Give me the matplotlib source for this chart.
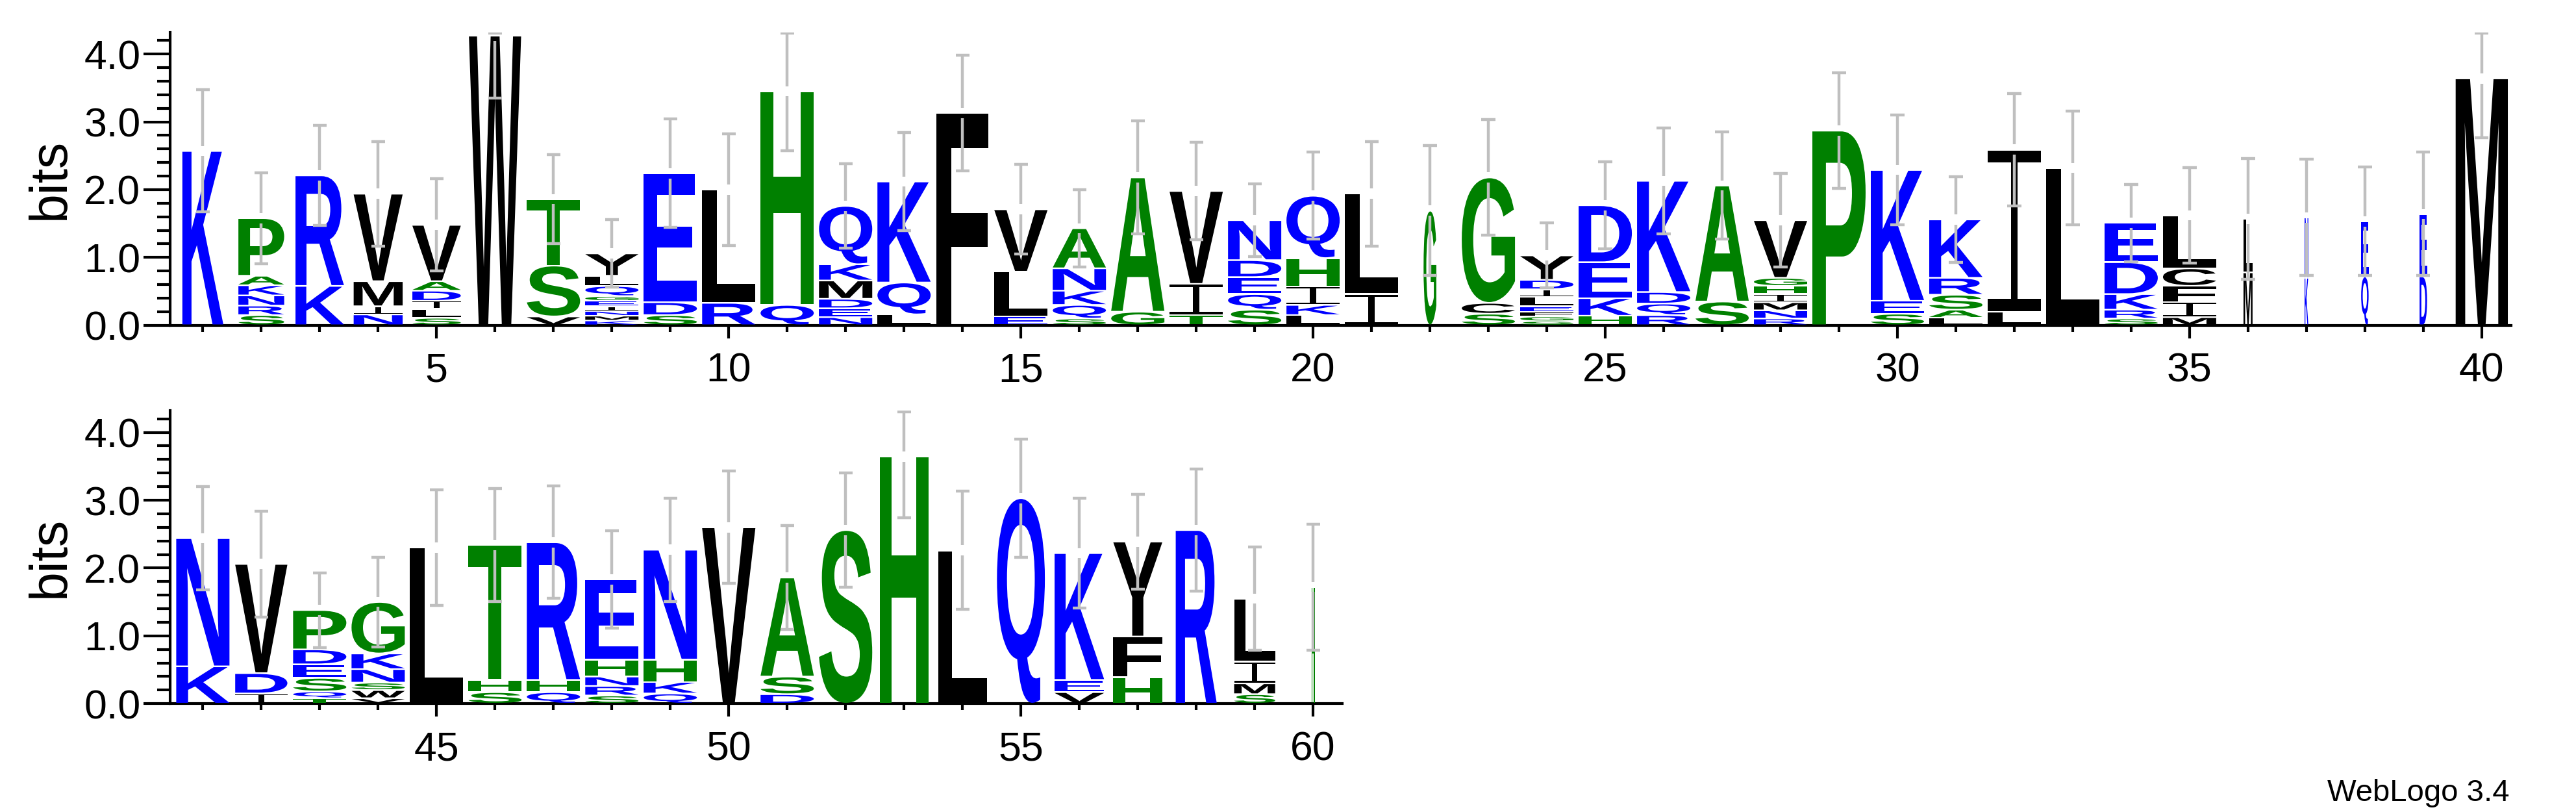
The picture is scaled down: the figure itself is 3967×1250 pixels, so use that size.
import matplotlib
matplotlib.use("Agg")
import matplotlib.pyplot as plt
from matplotlib.patheffects import AbstractPathEffect
from matplotlib.path import Path
from matplotlib.transforms import Affine2D
from matplotlib.ticker import MultipleLocator, FixedLocator, FormatStrFormatter

plt.rcParams['font.family'] = ['Liberation Sans', 'DejaVu Sans']

positions = list(range(1, 61))

# residues of each column, listed bottom -> top
residues = [
    "K", "SRNKAP", "KR", "NIMV", "SLIDAV", "W", "VST", "KMNIEGQLY", "SDE", "RL",
    "QH", "NEDMKQ", "LQK", "F", "ELV", "SQKNA", "GA", "TIV", "SQEDN", "LKIHQ",
    "IL", "G", "SCG", "SGFELIDY", "HKED", "RQDK", "SA", "RNMIHGV", "P", "SEK",
    "LASRK", "LI", "L", "SRKDE", "MIFCL", "ML", "KN", "QE", "DE", "M",
    "KN", "IDV", "TQSEDP", "VWSNKG", "L", "SHT", "QHR", "SRNHE", "QKHN", "V",
    "DSA", "S", "H", "L", "Q", "VEK", "HFY", "R", "SMIL", "H",
]

# information content (bits) of each residue, same order as residues
heights = [
    [2.57], [0.15, 0.14, 0.15, 0.15, 0.14, 0.85], [0.58, 1.63], [0.16, 0.12, 0.37, 1.29],
    [0.11, 0.13, 0.12, 0.15, 0.14, 0.83], [4.27], [0.13, 0.75, 0.98],
    [0.07, 0.07, 0.07, 0.07, 0.08, 0.07, 0.15, 0.15, 0.33], [0.15, 0.19, 1.90], [0.33, 1.67],
    [0.30, 3.15], [0.12, 0.13, 0.14, 0.27, 0.24, 0.86], [0.16, 0.47, 1.49], [3.13],
    [0.13, 0.66, 0.92], [0.10, 0.20, 0.21, 0.33, 0.59], [0.20, 1.98], [0.15, 0.46, 1.37],
    [0.23, 0.23, 0.25, 0.25, 0.59], [0.15, 0.15, 0.27, 0.42, 0.92],
    [0.46, 1.48], [1.69], [0.17, 0.16, 1.85], [0.06, 0.07, 0.07, 0.08, 0.14, 0.11, 0.14, 0.36],
    [0.14, 0.26, 0.53, 0.84], [0.15, 0.17, 0.17, 1.64], [0.35, 1.71],
    [0.10, 0.12, 0.12, 0.12, 0.12, 0.12, 0.85], [2.87], [0.17, 0.19, 1.93],
    [0.11, 0.12, 0.22, 0.25, 0.86], [0.20, 2.39], [2.32], [0.10, 0.13, 0.23, 0.47, 0.58],
    [0.12, 0.22, 0.24, 0.26, 0.78], [0.78, 0.79], [0.70, 0.89], [0.72, 0.81], [0.72, 0.92], [3.64],
    [0.55, 1.89], [0.15, 0.30, 1.61], [0.08, 0.10, 0.20, 0.20, 0.22, 0.58],
    [0.08, 0.12, 0.11, 0.20, 0.23, 0.76], [2.30], [0.17, 0.18, 1.99], [0.17, 0.18, 2.03],
    [0.12, 0.14, 0.14, 0.25, 1.18], [0.15, 0.17, 0.33, 1.62], [2.60],
    [0.14, 0.26, 1.46], [2.56], [3.64], [2.26], [3.03], [0.17, 0.18, 1.87], [0.39, 0.60, 1.40],
    [2.56], [0.14, 0.16, 0.32, 0.93], [1.72],
]

# half-length of the error bar of each column (bits)
errors = [
    0.90, 0.67, 0.74, 0.77, 0.68, 0.92, 0.66, 0.50, 0.80, 0.82,
    0.88, 0.62, 0.72, 0.85, 0.66, 0.57, 0.83, 0.72, 0.54, 0.64,
    0.77, 0.96, 0.85, 0.48, 0.64, 0.78, 0.79, 0.69, 0.85, 0.81,
    0.63, 0.83, 0.84, 0.57, 0.70, 0.89, 0.86, 0.80, 0.91, 0.87,
    0.76, 0.78, 0.55, 0.66, 0.85, 0.83, 0.83, 0.72, 0.76, 0.83,
    0.77, 0.84, 0.90, 0.87, 0.87, 0.81, 0.70, 0.90, 0.76, 0.93,
]

# relative column weight (stack width)
weights = [
    0.77, 0.86, 0.91, 0.92, 0.91, 0.98, 1.0, 1.0, 1.0, 1.0,
    1.0, 1.0, 1.0, 0.98, 1.0, 1.0, 1.0, 1.0, 1.0, 1.0,
    1.0, 0.24, 1.0, 1.0, 1.0, 1.0, 1.0, 1.0, 1.0, 1.0,
    1.0, 1.0, 1.0, 1.0, 1.0, 0.17, 0.07, 0.14, 0.14, 0.98,
    1.0, 0.98, 1.0, 1.0, 1.0, 1.0, 1.0, 1.0, 1.0, 1.0,
    1.0, 1.0, 0.92, 0.92, 0.90, 0.93, 0.92, 0.77, 0.77, 0.06,
]

# hydrophobicity colour scheme
color_groups = {"RKDENQ": "#0000FF", "SGHTAP": "#008000", "YVMCLFIW": "#000000"}

top_major = [5, 10, 15, 20, 25, 30, 35, 40]
bottom_major = [45, 50, 55, 60]

# ---------------- styling constants ----------------
YMAX = 4.32
STACK_W = 0.911
PAD = 0.012
GAP = 0.075
CAP = 0.118
ERR_COLOR = "#BFBFBF"


def residue_color(ch):
    for group, c in color_groups.items():
        if ch in group:
            return c
    return "#000000"


def serif_I():
    b = 0.075
    s0, s1 = 0.44, 0.56
    verts = [(0, 0), (1, 0), (1, b), (s1, b), (s1, 1 - b), (1, 1 - b), (1, 1),
             (0, 1), (0, 1 - b), (s0, 1 - b), (s0, b), (0, b), (0, 0)]
    codes = [Path.MOVETO] + [Path.LINETO] * 11 + [Path.CLOSEPOLY]
    return Path(verts, codes)


SERIF_I = serif_I()


class StretchGlyph(AbstractPathEffect):
    """Draws the text glyph stretched to fill a box given in data coordinates."""

    def __init__(self, ax, box, glyph=None):
        super().__init__()
        self.ax = ax
        self.box = box
        self.glyph = glyph

    def draw_path(self, renderer, gc, tpath, affine, rgbFace=None):
        x0, y0, x1, y1 = self.box
        (X0, Y0), (X1, Y1) = self.ax.transData.transform([(x0, y0), (x1, y1)])
        path = self.glyph if self.glyph is not None else tpath
        ext = path.get_extents()
        if ext.width <= 0 or ext.height <= 0:
            return
        tr = (Affine2D().translate(-ext.x0, -ext.y0)
              .scale((X1 - X0) / ext.width, (Y1 - Y0) / ext.height)
              .translate(X0, Y0))
        gc.set_linewidth(0)
        renderer.draw_path(gc, path, tr, rgbFace)


fig = plt.figure(figsize=(39.67, 12.5), dpi=100)
left = 262 / 3967
w_top = 0.90871
h_ax = 0.3608
ax_top = fig.add_axes([left, 0.59944, w_top, h_ax])
ax_bot = fig.add_axes([left, 0.13344, w_top * 20.06 / 40.06, h_ax])

for ax, xlim, majors, minors, lab_x in [
    (ax_top, (0.44, 40.5), top_major, list(range(1, 41)), -0.0510),
    (ax_bot, (40.44, 60.5), bottom_major, list(range(41, 61)), -0.1019),
]:
    ax.set_xlim(*xlim)
    ax.set_ylim(0, YMAX)
    for s in ["top", "right"]:
        ax.spines[s].set_visible(False)
    for s in ["left", "bottom"]:
        ax.spines[s].set_linewidth(3)
    ax.yaxis.set_major_locator(MultipleLocator(1.0))
    ax.yaxis.set_minor_locator(MultipleLocator(0.2))
    ax.yaxis.set_major_formatter(FormatStrFormatter("%.1f"))
    ax.xaxis.set_major_locator(FixedLocator(majors))
    ax.xaxis.set_minor_locator(FixedLocator(minors))
    ax.tick_params(axis="y", which="major", length=29.5, width=3, pad=3.3, labelsize=45)
    ax.tick_params(axis="y", which="minor", length=14.4, width=3)
    ax.tick_params(axis="x", which="major", length=14.4, width=3, pad=15, labelsize=45)
    ax.tick_params(axis="x", which="minor", length=7.2, width=3)
    ax.set_ylabel("bits", fontsize=58, va="center")
    ax.yaxis.set_label_coords(lab_x, 0.5)
    ax.patch.set_visible(False)

# letters
for i, p in enumerate(positions):
    ax = ax_top if p <= 40 else ax_bot
    w = STACK_W * weights[i]
    cum = 0.0
    for ch, h in zip(residues[i], heights[i]):
        pad = min(PAD, 0.15 * h)
        box = (p - w / 2, cum + pad, p + w / 2, cum + h - pad)
        glyph = SERIF_I if ch == "I" else None
        ax.text(p, cum + h / 2, ch, color=residue_color(ch), fontsize=8,
                fontweight="bold", ha="center", va="center",
                path_effects=[StretchGlyph(ax, box, glyph)], zorder=3)
        cum += h

# error bars
for ax, sel in [(ax_top, lambda p: p <= 40), (ax_bot, lambda p: p > 40)]:
    xs, ylo, yhi, cx, cy = [], [], [], [], []
    for i, p in enumerate(positions):
        if not sel(p):
            continue
        top = sum(heights[i])
        lo = top - errors[i]
        hi = min(top + errors[i], YMAX - 0.015)
        xs += [p, p]
        ylo += [lo, top + GAP]
        yhi += [top - GAP, hi]
        cx += [p, p]
        cy += [lo, hi]
    ax.vlines(xs, ylo, yhi, colors=ERR_COLOR, linewidth=3.2, zorder=5)
    ax.hlines(cy, [x - CAP for x in cx], [x + CAP for x in cx],
              colors=ERR_COLOR, linewidth=3.2, zorder=5)

fig.text(3864 / 3967, 1 - 1233 / 1250, "WebLogo 3.4", ha="right", va="baseline",
         fontsize=34)

fig.savefig("out.png", dpi=100)
